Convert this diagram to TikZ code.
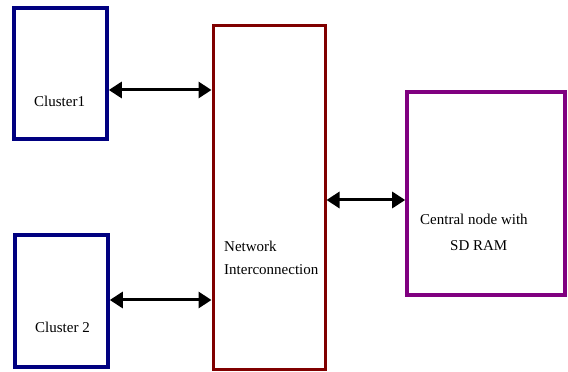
\documentclass[tikz,border=0pt]{standalone}
\usepackage{fontspec}
\setmainfont{Liberation Serif}
\usetikzlibrary{arrows.meta}
\definecolor{clusterblue}{HTML}{000080}
\definecolor{netred}{HTML}{800000}
\definecolor{centralpurple}{HTML}{800080}
\begin{document}
\begin{tikzpicture}[x=1pt,y=1pt,
  box/.style={draw, rectangle, inner sep=0pt, fill=white},
  lbl/.style={font=\fontsize{15}{18}\selectfont, inner sep=0pt, anchor=base west},
  link/.style={line width=3pt, {Triangle[length=13pt,width=16pt]}-{Triangle[length=13pt,width=16pt]}}]
  \useasboundingbox (0,0) rectangle (568,372);

  % blocks
  \node[box, draw=clusterblue, line width=3.6pt, minimum width=93pt, minimum height=131pt] (c1) at (60.5,298.5) {};
  \node[box, draw=clusterblue, line width=3.6pt, minimum width=93pt, minimum height=132pt] (c2) at (61.5,71) {};
  \node[box, draw=netred, line width=3pt, minimum width=112pt, minimum height=344pt] (net) at (269,174) {};
  \node[box, draw=centralpurple, line width=3.6pt, minimum width=158pt, minimum height=203pt] (cn) at (486,178.5) {};

  % labels
  \node[lbl] (t1) at (34,265) {Cluster1};
  \node[lbl] (t2) at (35,39) {Cluster 2};
  \node[lbl] (t3) at (224,120) {Network};
  \node[lbl] (t4) at (224,97) {Interconnection};
  \node[lbl] (t5) at (420,147) {Central node with};
  \node[lbl] (t6) at (450,121) {SD RAM};

  % links
  \draw[link] (c1.east |- 0,282) -- (net.west |- 0,282);
  \draw[link] (c2.east |- 0,72) -- (net.west |- 0,72);
  \draw[link] (net.east |- 0,172) -- (cn.west |- 0,172);
\end{tikzpicture}
\end{document}
